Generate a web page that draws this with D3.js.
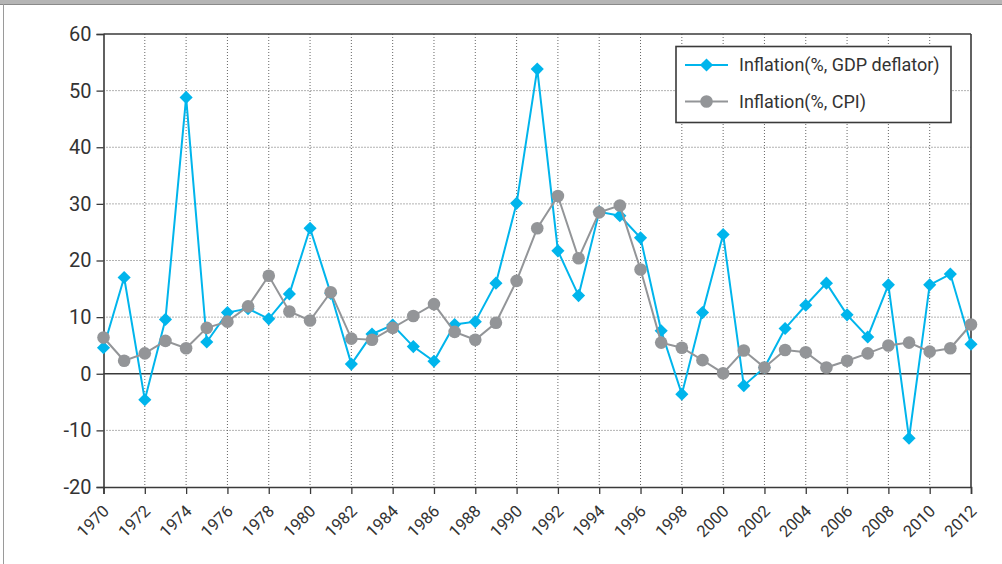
<!DOCTYPE html>
<html>
<head>
<meta charset="utf-8">
<script src="https://cdn.jsdelivr.net/npm/d3@7"></script>
<style>
  html, body { margin: 0; padding: 0; background: #fff; }
  svg { display: block; font-family: Roboto, "DejaVu Sans", sans-serif; }
</style>
</head>
<body>
<div id="chart"></div>
<script>
// data
const years = d3.range(1970, 2013);
const gdpDeflator = [
  4.6, 17.0, -4.6, 9.6, 48.8, 5.6, 10.8, 11.5, 9.7, 14.1,
  25.7, 14.2, 1.7, 7.0, 8.6, 4.8, 2.2, 8.7, 9.2, 16.0,
  30.1, 53.8, 21.7, 13.8, 28.6, 27.9, 24.0, 7.6, -3.6, 10.8,
  24.6, -2.1, 1.1, 8.0, 12.1, 16.0, 10.4, 6.5, 15.7, -11.4,
  15.7, 17.6, 5.2
];
const cpi = [
  6.4, 2.3, 3.6, 5.8, 4.5, 8.1, 9.2, 11.9, 17.3, 11.0,
  9.4, 14.4, 6.2, 6.0, 8.1, 10.2, 12.3, 7.4, 6.0, 9.0,
  16.4, 25.7, 31.4, 20.4, 28.5, 29.7, 18.4, 5.5, 4.6, 2.4,
  0.1, 4.1, 1.1, 4.2, 3.8, 1.1, 2.3, 3.6, 5.0, 5.5,
  3.9, 4.5, 8.7
];
const yTicks = [-20, -10, 0, 10, 20, 30, 40, 50, 60];
const xTicks = d3.range(1970, 2013, 2);
const seriesNames = ["Inflation(%, GDP deflator)", "Inflation(%, CPI)"];

const W = 1002, H = 564;
const blue = "#00b5ec", grey = "#939598", axisCol = "#3a3a3a";

const svg = d3.select("#chart").append("svg")
  .attr("width", W).attr("height", H);

// outer frame
svg.append("rect").attr("x", 0).attr("y", 0).attr("width", W).attr("height", 4)
  .attr("fill", "#b5b5b5");
svg.append("line").attr("x1", 0).attr("x2", W).attr("y1", 4.5).attr("y2", 4.5)
  .attr("stroke", "#8a8a8a").attr("stroke-width", 1);
svg.append("line").attr("x1", 3.5).attr("x2", 3.5).attr("y1", 4).attr("y2", H)
  .attr("stroke", "#9a9a9a").attr("stroke-width", 1);

// scales
const x = d3.scaleLinear().domain([1970, 2012]).range([103.5, 971]);
const y = d3.scaleLinear().domain([-20, 60]).range([487, 34]);

// gridlines
const grid = svg.append("g");
grid.selectAll(".vg").data(xTicks.filter(d => d > 1970 && d < 2012)).join("line")
  .attr("x1", d => x(d)).attr("x2", d => x(d))
  .attr("y1", y(60)).attr("y2", y(-20))
  .attr("stroke", "#666").attr("stroke-width", 1).attr("stroke-dasharray", "1,2");
grid.selectAll(".hg").data(yTicks.filter(d => d !== 0 && d !== 60 && d !== -20)).join("line")
  .attr("x1", x(1970)).attr("x2", x(2012))
  .attr("y1", d => y(d)).attr("y2", d => y(d))
  .attr("stroke", "#666").attr("stroke-width", 1).attr("stroke-dasharray", "1,2");

// axes
const yAxis = svg.append("g")
  .attr("transform", `translate(${x(1970)},0)`)
  .call(d3.axisLeft(y).tickValues(yTicks).tickSize(7).tickPadding(5).tickFormat(d => String(d)));
const xAxis = svg.append("g")
  .attr("transform", `translate(0,${y(-20)})`)
  .call(d3.axisBottom(x).tickValues(xTicks).tickSize(7).tickFormat(d => String(d)));

[yAxis, xAxis].forEach(a => {
  a.attr("font-family", null).attr("font-size", null);
  a.select(".domain").attr("stroke", axisCol).attr("stroke-width", 1.6);
  a.selectAll(".tick line").attr("stroke", axisCol).attr("stroke-width", 1.3);
  a.selectAll("text").attr("fill", "#333");
});
yAxis.selectAll("text").style("font-size", "20px");
xAxis.selectAll("text")
  .style("font-size", "16.5px")
  .attr("text-anchor", "end")
  .attr("dy", "0.35em")
  .attr("transform", "translate(2,21) rotate(-45)")
  .attr("x", 0).attr("y", 0);

// top & right border, zero line
svg.append("line").attr("x1", x(1970)).attr("x2", x(2012))
  .attr("y1", y(60)).attr("y2", y(60))
  .attr("stroke", axisCol).attr("stroke-width", 1.6);
svg.append("line").attr("x1", x(2012)).attr("x2", x(2012))
  .attr("y1", y(60)).attr("y2", y(-20))
  .attr("stroke", axisCol).attr("stroke-width", 1.6);
svg.append("line").attr("x1", x(1970)).attr("x2", x(2012))
  .attr("y1", y(0)).attr("y2", y(0))
  .attr("stroke", axisCol).attr("stroke-width", 1.4);

// series
const line = d3.line().x((d, i) => x(years[i])).y(d => y(d));
const diamond = d3.symbol().type(d3.symbolDiamond2).size(110);

svg.append("path").datum(gdpDeflator)
  .attr("fill", "none").attr("stroke", blue).attr("stroke-width", 2)
  .attr("d", line);
svg.append("g").selectAll("path").data(gdpDeflator).join("path")
  .attr("transform", (d, i) => `translate(${x(years[i])},${y(d)})`)
  .attr("d", diamond).attr("fill", blue);

svg.append("path").datum(cpi)
  .attr("fill", "none").attr("stroke", grey).attr("stroke-width", 2)
  .attr("d", line);
svg.append("g").selectAll("circle").data(cpi).join("circle")
  .attr("cx", (d, i) => x(years[i])).attr("cy", d => y(d))
  .attr("r", 6.3).attr("fill", grey);

// legend
const lg = svg.append("g");
lg.append("rect").attr("x", 676).attr("y", 46.5).attr("width", 275).attr("height", 76)
  .attr("fill", "#fff").attr("stroke", axisCol).attr("stroke-width", 1.6);
[blue, grey].forEach((c, i) => {
  const cy = 65 + i * 36.5;
  lg.append("line").attr("x1", 685).attr("x2", 728).attr("y1", cy).attr("y2", cy)
    .attr("stroke", c).attr("stroke-width", 2);
  if (i === 0) {
    lg.append("path").attr("transform", `translate(706.5,${cy})`)
      .attr("d", diamond).attr("fill", c);
  } else {
    lg.append("circle").attr("cx", 706.5).attr("cy", cy).attr("r", 6.3).attr("fill", c);
  }
  lg.append("text").attr("x", 739).attr("y", cy).attr("dy", "0.36em")
    .style("font-size", "18px").attr("fill", "#333")
    .text(seriesNames[i]);
});
</script>
</body>
</html>
